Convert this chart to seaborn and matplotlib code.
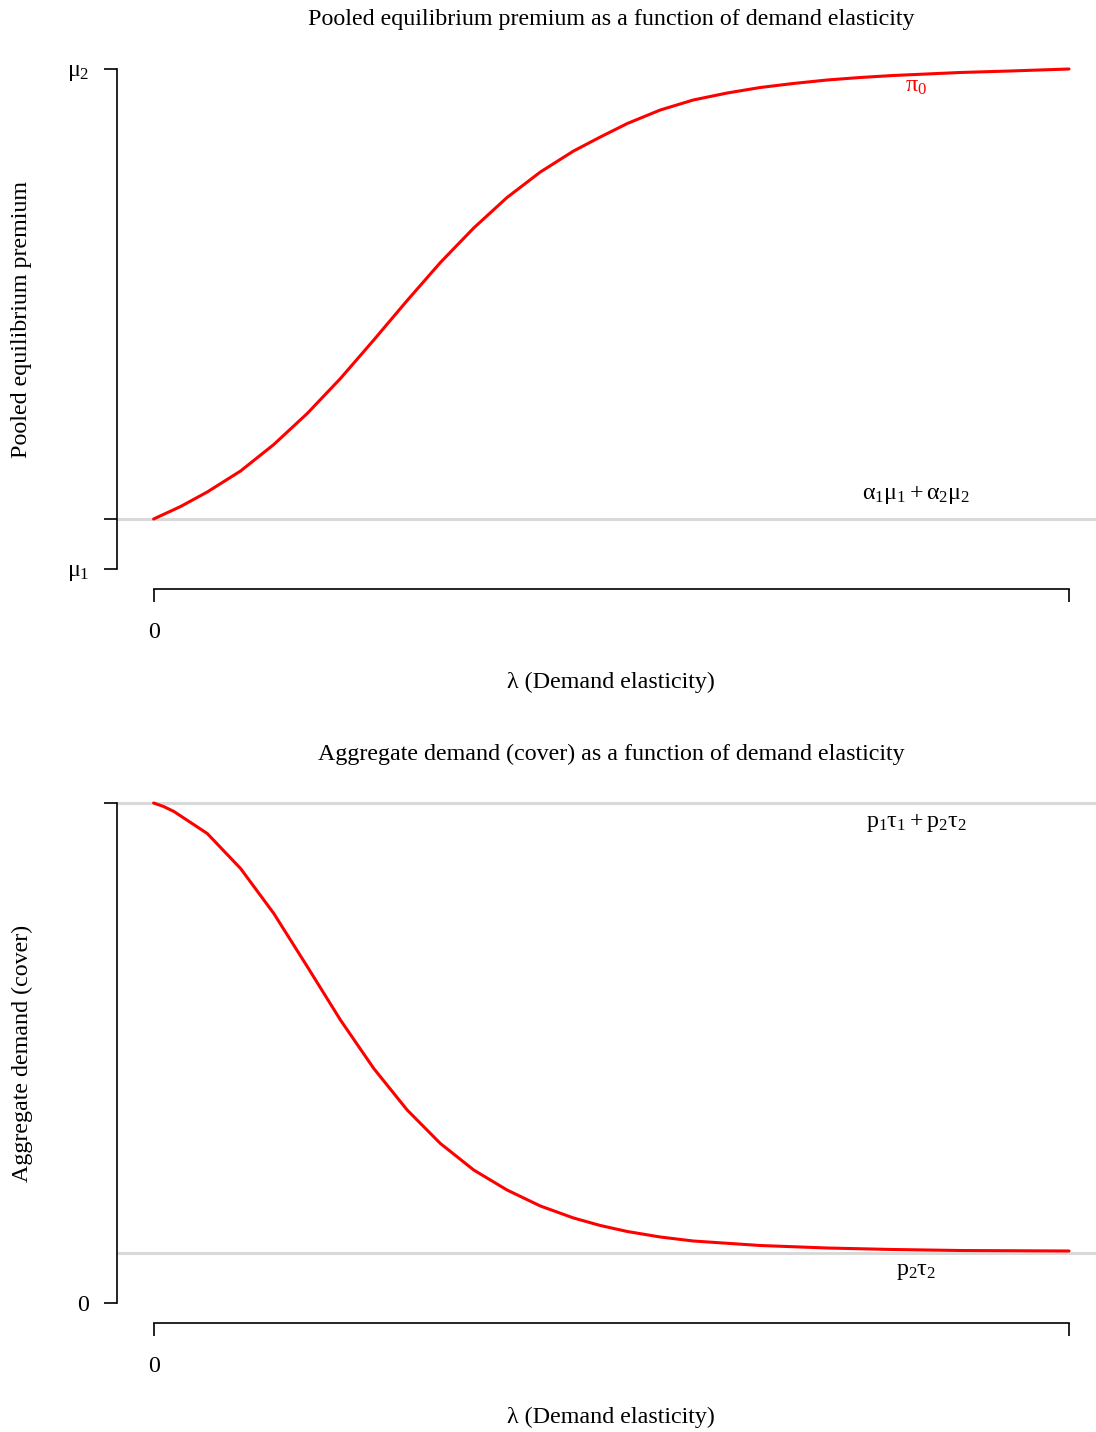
import numpy as np
import pandas as pd
import matplotlib
matplotlib.use("Agg")
import matplotlib.pyplot as plt
import seaborn as sns

# -----------------------------
# Dados
# -----------------------------
lam_premium = [0, 0.295, 0.586, 0.950, 1.313, 1.678, 2.041, 2.405, 2.770, 3.133,
               3.497, 3.861, 4.225, 4.588, 4.880, 5.175, 5.535, 5.895, 6.266,
               6.627, 6.987, 7.358, 7.718, 8.079, 8.810, 9.356, 10.0]
premium = [1.100, 1.125, 1.154, 1.196, 1.249, 1.311, 1.381, 1.458, 1.537, 1.613,
           1.682, 1.743, 1.794, 1.836, 1.864, 1.891, 1.918, 1.938, 1.952,
           1.963, 1.971, 1.978, 1.983, 1.987, 1.993, 1.996, 2.000]

lam_demand = [0, 0.109, 0.222, 0.586, 0.950, 1.313, 1.678, 2.041, 2.405, 2.770,
              3.133, 3.497, 3.861, 4.225, 4.588, 4.880, 5.175, 5.535, 5.895,
              6.627, 7.358, 8.079, 8.810, 10.0]
demand = [1.000, 0.993, 0.983, 0.939, 0.869, 0.779, 0.673, 0.566, 0.469, 0.386,
          0.319, 0.266, 0.226, 0.194, 0.170, 0.155, 0.143, 0.132, 0.124,
          0.115, 0.110, 0.107, 0.105, 0.104]

mu1, mu2 = 1.0, 2.0
pooled = 1.1          # alpha1*mu1 + alpha2*mu2
cover_max = 1.0       # p1*tau1 + p2*tau2
cover_min = 0.1       # p2*tau2
lam_max = 10.0
label_lam = 8.333

df_p = pd.DataFrame({"lam": lam_premium, "premium": premium})
df_d = pd.DataFrame({"lam": lam_demand, "demand": demand})

# -----------------------------
# Estilo
# -----------------------------
sns.set_style("ticks")
plt.rcParams["font.family"] = ["Liberation Serif", "DejaVu Serif"]
plt.rcParams["mathtext.fontset"] = "custom"
plt.rcParams["mathtext.rm"] = "Liberation Serif"
plt.rcParams["mathtext.it"] = "Liberation Serif"
plt.rcParams["mathtext.bf"] = "Liberation Serif:bold"
for k in ("text.color", "axes.labelcolor", "xtick.color", "ytick.color"):
    plt.rcParams[k] = "black"

FS = 17.25
W, H = 1096, 1432
fig = plt.figure(figsize=(W / 100, H / 100), dpi=100)

def px_axes(left, top, right, bottom):
    return fig.add_axes([left / W, 1 - bottom / H, (right - left) / W, (bottom - top) / H])

def style_axis(ax, ylo, yhi):
    pad = 0.04 * (yhi - ylo)
    ax.set_xlim(-0.04 * lam_max, 1.04 * lam_max)
    ax.set_ylim(ylo - pad, yhi + pad)
    sns.despine(ax=ax)
    ax.spines["left"].set_bounds(ylo, yhi)
    ax.spines["bottom"].set_bounds(0, lam_max)
    for s in ("left", "bottom"):
        ax.spines[s].set_linewidth(1.2)
        ax.spines[s].set_color("black")
    ax.tick_params(axis="both", direction="out", length=9.4, width=1.2,
                   colors="black", labelsize=FS)
    ax.tick_params(axis="y", pad=10.5)
    ax.tick_params(axis="x", pad=14.5)
    ax.set_xticks([0, lam_max])
    ax.set_xticklabels(["0", ""])
    ax.set_xlabel("")
    ax.set_ylabel("")

# -----------------------------
# Painel superior
# -----------------------------
ax1 = px_axes(117, 49, 1105.6, 589)
ax1.axhline(pooled, color="#d9d9d9", lw=2.2, zorder=1)
sns.lineplot(data=df_p, x="lam", y="premium", ax=ax1, color="red", lw=2.2, zorder=2)
style_axis(ax1, mu1, mu2)
ax1.set_yticks([mu1, pooled, mu2])
ax1.set_yticklabels([r"$\mu_1$", "", r"$\mu_2$"])
ax1.text(label_lam, 1.149, r"$\alpha_1\mu_1+\alpha_2\mu_2$", ha="center", va="center", fontsize=FS)
ax1.text(label_lam, 1.965, r"$\pi_0$", ha="center", va="center", fontsize=FS, color="red")
ax1.text(0.5, 1 + 29 / 540, "Pooled equilibrium premium as a function of demand elasticity",
         transform=ax1.transAxes, ha="center", va="center", fontsize=FS)
ax1.text(0.5, -93 / 540, "λ (Demand elasticity)", transform=ax1.transAxes,
         ha="center", va="center", fontsize=FS)
ax1.text(-95 / 988.6, 0.5, "Pooled equilibrium premium", transform=ax1.transAxes,
         ha="center", va="center", rotation=90, fontsize=FS)

# -----------------------------
# Painel inferior
# -----------------------------
ax2 = px_axes(117, 783, 1105.6, 1323)
ax2.axhline(cover_max, color="#d9d9d9", lw=2.2, zorder=1)
ax2.axhline(cover_min, color="#d9d9d9", lw=2.2, zorder=1)
sns.lineplot(data=df_d, x="lam", y="demand", ax=ax2, color="red", lw=2.2, zorder=2)
style_axis(ax2, 0.0, cover_max)
ax2.set_yticks([0.0, cover_max])
ax2.set_yticklabels(["0", ""])
ax2.text(label_lam, 0.96, r"$p_1\tau_1+p_2\tau_2$", ha="center", va="center", fontsize=FS)
ax2.text(label_lam, 0.063, r"$p_2\tau_2$", ha="center", va="center", fontsize=FS)
ax2.text(0.5, 1 + 29 / 540, "Aggregate demand (cover) as a function of demand elasticity",
         transform=ax2.transAxes, ha="center", va="center", fontsize=FS)
ax2.text(0.5, -94 / 540, "λ (Demand elasticity)", transform=ax2.transAxes,
         ha="center", va="center", fontsize=FS)
ax2.text(-95 / 988.6, 0.5, "Aggregate demand (cover)", transform=ax2.transAxes,
         ha="center", va="center", rotation=90, fontsize=FS)

fig.savefig("out.png", dpi=100)
